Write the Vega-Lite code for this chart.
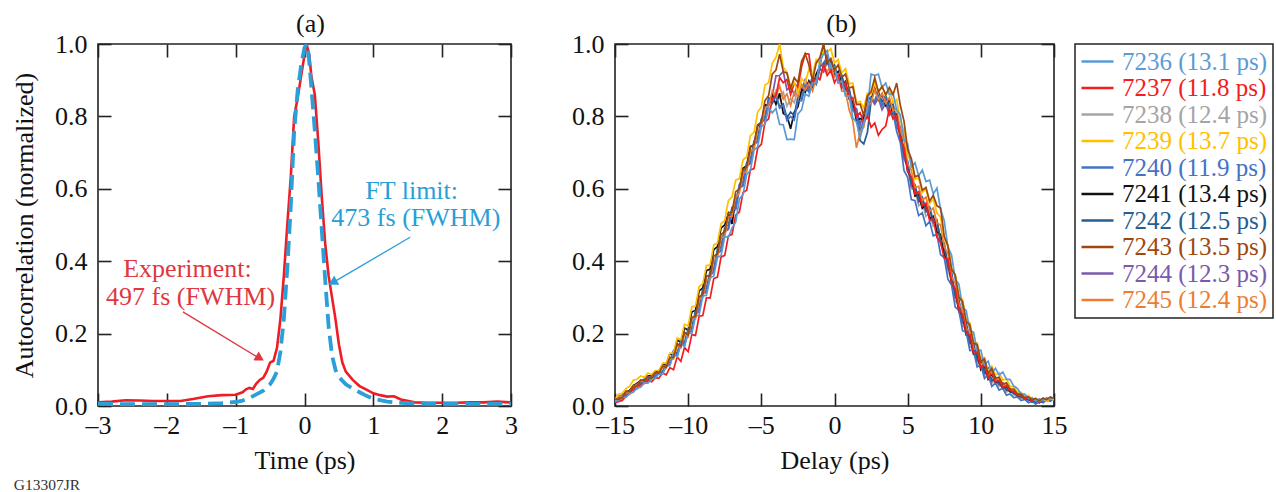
{
  "$schema": "https://vega.github.io/schema/vega-lite/v6.json",
  "padding": {"left": 10, "top": 10, "right": 0, "bottom": 0},
  "bounds": "flush",
  "spacing": 104,
  "config": {
    "font": "Liberation Serif",
    "view": {"stroke": "#222222", "strokeWidth": 1.6},
    "axis": {
      "labelFont": "Liberation Serif", "titleFont": "Liberation Serif",
      "labelFontSize": 26, "titleFontSize": 26, "labelColor": "#111111", "titleColor": "#111111",
      "titleFontWeight": "normal", "grid": false, "domain": false,
      "tickColor": "#222222", "tickWidth": 1.6, "tickSize": -13,
      "labelFlush": false, "labelOverlap": false
    },
    "title": {"font": "Liberation Serif", "fontWeight": "normal", "color": "#111111"}
  },
  "title": {"text": "G13307JR", "orient": "bottom", "anchor": "start", "frame": "bounds", "fontSize": 15.5, "color": "#333333", "offset": 4, "dx": 3},
  "resolve": {"legend": {"color": "independent"}},
  "datasets": {
    "expt": [
      {"t": -3.0, "v": 0.010}, {"t": -2.8, "v": 0.012}, {"t": -2.6, "v": 0.016}, {"t": -2.4, "v": 0.015},
      {"t": -2.2, "v": 0.014}, {"t": -2.0, "v": 0.014}, {"t": -1.8, "v": 0.014}, {"t": -1.6, "v": 0.020},
      {"t": -1.4, "v": 0.027}, {"t": -1.2, "v": 0.030}, {"t": -1.0, "v": 0.031}, {"t": -0.9, "v": 0.038},
      {"t": -0.85, "v": 0.046}, {"t": -0.8, "v": 0.050}, {"t": -0.75, "v": 0.047}, {"t": -0.7, "v": 0.062},
      {"t": -0.65, "v": 0.072}, {"t": -0.6, "v": 0.078}, {"t": -0.55, "v": 0.095}, {"t": -0.5, "v": 0.120},
      {"t": -0.45, "v": 0.125}, {"t": -0.4, "v": 0.160}, {"t": -0.35, "v": 0.240}, {"t": -0.3, "v": 0.360},
      {"t": -0.25, "v": 0.500}, {"t": -0.2, "v": 0.630}, {"t": -0.15, "v": 0.800}, {"t": -0.1, "v": 0.850},
      {"t": -0.05, "v": 0.910}, {"t": 0.0, "v": 0.970}, {"t": 0.03, "v": 1.0}, {"t": 0.07, "v": 0.970},
      {"t": 0.1, "v": 0.910}, {"t": 0.15, "v": 0.860}, {"t": 0.2, "v": 0.730}, {"t": 0.25, "v": 0.580},
      {"t": 0.3, "v": 0.450}, {"t": 0.35, "v": 0.360}, {"t": 0.4, "v": 0.300}, {"t": 0.45, "v": 0.240},
      {"t": 0.5, "v": 0.170}, {"t": 0.55, "v": 0.120}, {"t": 0.6, "v": 0.095}, {"t": 0.7, "v": 0.072},
      {"t": 0.8, "v": 0.055}, {"t": 0.9, "v": 0.045}, {"t": 1.0, "v": 0.035}, {"t": 1.1, "v": 0.030},
      {"t": 1.2, "v": 0.026}, {"t": 1.3, "v": 0.027}, {"t": 1.4, "v": 0.018}, {"t": 1.6, "v": 0.010},
      {"t": 1.8, "v": 0.009}, {"t": 2.0, "v": 0.009}, {"t": 2.2, "v": 0.009}, {"t": 2.4, "v": 0.010},
      {"t": 2.6, "v": 0.010}, {"t": 2.8, "v": 0.012}, {"t": 3.0, "v": 0.010}
    ],
    "ft": [
      {"t": -3.0, "v": 0.006}, {"t": -2.5, "v": 0.005}, {"t": -2.0, "v": 0.005}, {"t": -1.5, "v": 0.006},
      {"t": -1.2, "v": 0.008}, {"t": -1.0, "v": 0.011}, {"t": -0.9, "v": 0.015}, {"t": -0.8, "v": 0.022},
      {"t": -0.7, "v": 0.032}, {"t": -0.6, "v": 0.042}, {"t": -0.5, "v": 0.060}, {"t": -0.45, "v": 0.075},
      {"t": -0.4, "v": 0.095}, {"t": -0.35, "v": 0.150}, {"t": -0.3, "v": 0.240}, {"t": -0.25, "v": 0.380},
      {"t": -0.2, "v": 0.550}, {"t": -0.15, "v": 0.760}, {"t": -0.1, "v": 0.870}, {"t": -0.05, "v": 0.940},
      {"t": 0.0, "v": 0.990}, {"t": 0.03, "v": 1.0}, {"t": 0.06, "v": 0.970}, {"t": 0.1, "v": 0.880},
      {"t": 0.15, "v": 0.760}, {"t": 0.2, "v": 0.630}, {"t": 0.25, "v": 0.490}, {"t": 0.3, "v": 0.350},
      {"t": 0.35, "v": 0.220}, {"t": 0.4, "v": 0.140}, {"t": 0.45, "v": 0.100}, {"t": 0.5, "v": 0.080},
      {"t": 0.6, "v": 0.060}, {"t": 0.7, "v": 0.048}, {"t": 0.8, "v": 0.038}, {"t": 0.9, "v": 0.028},
      {"t": 1.0, "v": 0.020}, {"t": 1.2, "v": 0.012}, {"t": 1.4, "v": 0.009}, {"t": 1.6, "v": 0.007},
      {"t": 2.0, "v": 0.006}, {"t": 2.5, "v": 0.006}, {"t": 3.0, "v": 0.006}
    ],
    "labels": [
      {"k": "a", "label": "7236 (13.1 ps)"}, {"k": "b", "label": "7237 (11.8 ps)"},
      {"k": "c", "label": "7238 (12.4 ps)"}, {"k": "d", "label": "7239 (13.7 ps)"},
      {"k": "e", "label": "7240 (11.9 ps)"}, {"k": "f", "label": "7241 (13.4 ps)"},
      {"k": "g", "label": "7242 (12.5 ps)"}, {"k": "h", "label": "7243 (13.5 ps)"},
      {"k": "i", "label": "7244 (12.3 ps)"}, {"k": "j", "label": "7245 (12.4 ps)"}
    ],
    "scans": [
      {"t": -15, "a": 0.013, "b": 0.009, "c": 0.021, "d": 0.017, "e": 0.011, "f": 0.012, "g": 0.015, "h": 0.019, "i": 0.019, "j": 0.011},
      {"t": -14.75, "a": 0.015, "b": 0.013, "c": 0.019, "d": 0.033, "e": 0.012, "f": 0.027, "g": 0.016, "h": 0.019, "i": 0.018, "j": 0.028},
      {"t": -14.5, "a": 0.025, "b": 0.015, "c": 0.030, "d": 0.035, "e": 0.023, "f": 0.028, "g": 0.031, "h": 0.023, "i": 0.027, "j": 0.027},
      {"t": -14.25, "a": 0.024, "b": 0.028, "c": 0.032, "d": 0.048, "e": 0.027, "f": 0.039, "g": 0.030, "h": 0.041, "i": 0.026, "j": 0.037},
      {"t": -14, "a": 0.035, "b": 0.033, "c": 0.044, "d": 0.055, "e": 0.040, "f": 0.043, "g": 0.043, "h": 0.040, "i": 0.041, "j": 0.039},
      {"t": -13.75, "a": 0.038, "b": 0.047, "c": 0.047, "d": 0.071, "e": 0.045, "f": 0.057, "g": 0.047, "h": 0.055, "i": 0.044, "j": 0.056},
      {"t": -13.5, "a": 0.049, "b": 0.047, "c": 0.063, "d": 0.074, "e": 0.058, "f": 0.062, "g": 0.062, "h": 0.054, "i": 0.059, "j": 0.058},
      {"t": -13.25, "a": 0.052, "b": 0.060, "c": 0.060, "d": 0.083, "e": 0.059, "f": 0.071, "g": 0.063, "h": 0.072, "i": 0.057, "j": 0.069},
      {"t": -13, "a": 0.063, "b": 0.062, "c": 0.075, "d": 0.079, "e": 0.069, "f": 0.071, "g": 0.074, "h": 0.069, "i": 0.071, "j": 0.067},
      {"t": -12.75, "a": 0.063, "b": 0.071, "c": 0.073, "d": 0.091, "e": 0.067, "f": 0.083, "g": 0.071, "h": 0.081, "i": 0.069, "j": 0.080},
      {"t": -12.5, "a": 0.074, "b": 0.067, "c": 0.084, "d": 0.087, "e": 0.079, "f": 0.084, "g": 0.085, "h": 0.077, "i": 0.081, "j": 0.078},
      {"t": -12.25, "a": 0.076, "b": 0.077, "c": 0.085, "d": 0.098, "e": 0.081, "f": 0.093, "g": 0.082, "h": 0.092, "i": 0.080, "j": 0.090},
      {"t": -12, "a": 0.089, "b": 0.077, "c": 0.098, "d": 0.098, "e": 0.093, "f": 0.096, "g": 0.096, "h": 0.091, "i": 0.093, "j": 0.092},
      {"t": -11.75, "a": 0.088, "b": 0.091, "c": 0.092, "d": 0.118, "e": 0.092, "f": 0.114, "g": 0.095, "h": 0.110, "i": 0.091, "j": 0.107},
      {"t": -11.5, "a": 0.109, "b": 0.086, "c": 0.114, "d": 0.119, "e": 0.114, "f": 0.116, "g": 0.118, "h": 0.107, "i": 0.112, "j": 0.105},
      {"t": -11.25, "a": 0.112, "b": 0.106, "c": 0.114, "d": 0.146, "e": 0.116, "f": 0.144, "g": 0.120, "h": 0.134, "i": 0.114, "j": 0.131},
      {"t": -11, "a": 0.145, "b": 0.100, "c": 0.148, "d": 0.146, "e": 0.149, "f": 0.143, "g": 0.153, "h": 0.134, "i": 0.146, "j": 0.130},
      {"t": -10.75, "a": 0.135, "b": 0.136, "c": 0.138, "d": 0.188, "e": 0.140, "f": 0.182, "g": 0.145, "h": 0.172, "i": 0.138, "j": 0.168},
      {"t": -10.5, "a": 0.172, "b": 0.123, "c": 0.178, "d": 0.183, "e": 0.178, "f": 0.176, "g": 0.183, "h": 0.165, "i": 0.175, "j": 0.160},
      {"t": -10.25, "a": 0.164, "b": 0.162, "c": 0.168, "d": 0.226, "e": 0.169, "f": 0.216, "g": 0.175, "h": 0.204, "i": 0.168, "j": 0.198},
      {"t": -10, "a": 0.202, "b": 0.150, "c": 0.208, "d": 0.221, "e": 0.208, "f": 0.209, "g": 0.214, "h": 0.196, "i": 0.204, "j": 0.191},
      {"t": -9.75, "a": 0.200, "b": 0.197, "c": 0.208, "d": 0.274, "e": 0.209, "f": 0.260, "g": 0.215, "h": 0.245, "i": 0.206, "j": 0.240},
      {"t": -9.5, "a": 0.248, "b": 0.195, "c": 0.258, "d": 0.276, "e": 0.258, "f": 0.264, "g": 0.263, "h": 0.248, "i": 0.255, "j": 0.240},
      {"t": -9.25, "a": 0.251, "b": 0.248, "c": 0.263, "d": 0.330, "e": 0.263, "f": 0.318, "g": 0.270, "h": 0.302, "i": 0.260, "j": 0.293},
      {"t": -9, "a": 0.304, "b": 0.250, "c": 0.317, "d": 0.338, "e": 0.315, "f": 0.326, "g": 0.323, "h": 0.308, "i": 0.312, "j": 0.300},
      {"t": -8.75, "a": 0.306, "b": 0.299, "c": 0.318, "d": 0.388, "e": 0.318, "f": 0.374, "g": 0.325, "h": 0.359, "i": 0.313, "j": 0.348},
      {"t": -8.5, "a": 0.354, "b": 0.298, "c": 0.364, "d": 0.390, "e": 0.366, "f": 0.378, "g": 0.373, "h": 0.360, "i": 0.362, "j": 0.348},
      {"t": -8.25, "a": 0.359, "b": 0.352, "c": 0.371, "d": 0.445, "e": 0.372, "f": 0.432, "g": 0.378, "h": 0.414, "i": 0.369, "j": 0.404},
      {"t": -8, "a": 0.410, "b": 0.356, "c": 0.426, "d": 0.450, "e": 0.425, "f": 0.440, "g": 0.433, "h": 0.420, "i": 0.422, "j": 0.409},
      {"t": -7.75, "a": 0.416, "b": 0.412, "c": 0.430, "d": 0.504, "e": 0.433, "f": 0.492, "g": 0.440, "h": 0.474, "i": 0.428, "j": 0.464},
      {"t": -7.5, "a": 0.468, "b": 0.416, "c": 0.484, "d": 0.513, "e": 0.486, "f": 0.500, "g": 0.493, "h": 0.482, "i": 0.482, "j": 0.468},
      {"t": -7.25, "a": 0.466, "b": 0.470, "c": 0.490, "d": 0.568, "e": 0.491, "f": 0.532, "g": 0.500, "h": 0.534, "i": 0.488, "j": 0.523},
      {"t": -7, "a": 0.492, "b": 0.474, "c": 0.540, "d": 0.578, "e": 0.539, "f": 0.503, "g": 0.549, "h": 0.536, "i": 0.538, "j": 0.524},
      {"t": -6.75, "a": 0.508, "b": 0.527, "c": 0.545, "d": 0.624, "e": 0.546, "f": 0.572, "g": 0.554, "h": 0.592, "i": 0.543, "j": 0.577},
      {"t": -6.5, "a": 0.572, "b": 0.536, "c": 0.604, "d": 0.628, "e": 0.606, "f": 0.598, "g": 0.612, "h": 0.600, "i": 0.602, "j": 0.588},
      {"t": -6.25, "a": 0.584, "b": 0.590, "c": 0.610, "d": 0.680, "e": 0.612, "f": 0.657, "g": 0.620, "h": 0.652, "i": 0.608, "j": 0.643},
      {"t": -6, "a": 0.640, "b": 0.596, "c": 0.664, "d": 0.688, "e": 0.666, "f": 0.664, "g": 0.672, "h": 0.660, "i": 0.662, "j": 0.648},
      {"t": -5.75, "a": 0.650, "b": 0.652, "c": 0.670, "d": 0.747, "e": 0.674, "f": 0.717, "g": 0.678, "h": 0.714, "i": 0.670, "j": 0.703},
      {"t": -5.5, "a": 0.707, "b": 0.656, "c": 0.724, "d": 0.756, "e": 0.726, "f": 0.721, "g": 0.732, "h": 0.723, "i": 0.724, "j": 0.710},
      {"t": -5.25, "a": 0.716, "b": 0.712, "c": 0.730, "d": 0.812, "e": 0.733, "f": 0.774, "g": 0.740, "h": 0.777, "i": 0.729, "j": 0.762},
      {"t": -5, "a": 0.772, "b": 0.723, "c": 0.784, "d": 0.826, "e": 0.787, "f": 0.781, "g": 0.793, "h": 0.784, "i": 0.784, "j": 0.769},
      {"t": -4.75, "a": 0.778, "b": 0.784, "c": 0.791, "d": 0.887, "e": 0.794, "f": 0.832, "g": 0.798, "h": 0.844, "i": 0.790, "j": 0.824},
      {"t": -4.5, "a": 0.824, "b": 0.793, "c": 0.844, "d": 0.893, "e": 0.846, "f": 0.830, "g": 0.850, "h": 0.858, "i": 0.848, "j": 0.828},
      {"t": -4.25, "a": 0.810, "b": 0.850, "c": 0.840, "d": 0.947, "e": 0.838, "f": 0.860, "g": 0.836, "h": 0.917, "i": 0.856, "j": 0.870},
      {"t": -4, "a": 0.822, "b": 0.858, "c": 0.870, "d": 0.963, "e": 0.860, "f": 0.833, "g": 0.857, "h": 0.928, "i": 0.912, "j": 0.856},
      {"t": -3.75, "a": 0.778, "b": 0.907, "c": 0.850, "d": 1.0, "e": 0.823, "f": 0.864, "g": 0.826, "h": 0.972, "i": 0.913, "j": 0.884},
      {"t": -3.5, "a": 0.777, "b": 0.893, "c": 0.867, "d": 0.936, "e": 0.830, "f": 0.808, "g": 0.834, "h": 0.923, "i": 0.924, "j": 0.848},
      {"t": -3.25, "a": 0.736, "b": 0.902, "c": 0.828, "d": 0.922, "e": 0.788, "f": 0.802, "g": 0.796, "h": 0.920, "i": 0.873, "j": 0.862},
      {"t": -3, "a": 0.737, "b": 0.860, "c": 0.850, "d": 0.878, "e": 0.800, "f": 0.766, "g": 0.812, "h": 0.878, "i": 0.882, "j": 0.830},
      {"t": -2.75, "a": 0.736, "b": 0.892, "c": 0.838, "d": 0.894, "e": 0.790, "f": 0.812, "g": 0.803, "h": 0.907, "i": 0.860, "j": 0.867},
      {"t": -2.5, "a": 0.807, "b": 0.878, "c": 0.874, "d": 0.866, "e": 0.842, "f": 0.826, "g": 0.854, "h": 0.893, "i": 0.892, "j": 0.854},
      {"t": -2.25, "a": 0.818, "b": 0.937, "c": 0.860, "d": 0.904, "e": 0.843, "f": 0.874, "g": 0.848, "h": 0.952, "i": 0.873, "j": 0.888},
      {"t": -2, "a": 0.862, "b": 0.973, "c": 0.892, "d": 0.893, "e": 0.882, "f": 0.866, "g": 0.884, "h": 0.973, "i": 0.902, "j": 0.873},
      {"t": -1.75, "a": 0.856, "b": 0.972, "c": 0.873, "d": 0.930, "e": 0.868, "f": 0.898, "g": 0.868, "h": 0.942, "i": 0.880, "j": 0.892},
      {"t": -1.5, "a": 0.892, "b": 0.893, "c": 0.902, "d": 0.916, "e": 0.900, "f": 0.880, "g": 0.902, "h": 0.900, "i": 0.910, "j": 0.870},
      {"t": -1.25, "a": 0.893, "b": 0.907, "c": 0.888, "d": 0.957, "e": 0.890, "f": 0.917, "g": 0.890, "h": 0.947, "i": 0.893, "j": 0.907},
      {"t": -1, "a": 0.952, "b": 0.903, "c": 0.930, "d": 0.946, "e": 0.937, "f": 0.938, "g": 0.942, "h": 0.963, "i": 0.932, "j": 0.900},
      {"t": -0.75, "a": 0.973, "b": 0.942, "c": 0.923, "d": 0.984, "e": 0.948, "f": 0.997, "g": 0.938, "h": 1.0, "i": 0.923, "j": 0.942},
      {"t": -0.5, "a": 0.982, "b": 0.913, "c": 0.954, "d": 0.978, "e": 0.962, "f": 0.948, "g": 0.967, "h": 0.948, "i": 0.952, "j": 0.923},
      {"t": -0.25, "a": 0.933, "b": 0.927, "c": 0.926, "d": 0.987, "e": 0.923, "f": 0.954, "g": 0.928, "h": 0.960, "i": 0.923, "j": 0.944},
      {"t": 0, "a": 0.937, "b": 0.893, "c": 0.940, "d": 0.948, "e": 0.930, "f": 0.913, "g": 0.942, "h": 0.928, "i": 0.934, "j": 0.908},
      {"t": 0.25, "a": 0.893, "b": 0.912, "c": 0.903, "d": 0.957, "e": 0.893, "f": 0.924, "g": 0.903, "h": 0.942, "i": 0.900, "j": 0.917},
      {"t": 0.5, "a": 0.897, "b": 0.878, "c": 0.912, "d": 0.920, "e": 0.900, "f": 0.886, "g": 0.912, "h": 0.908, "i": 0.910, "j": 0.870},
      {"t": 0.75, "a": 0.856, "b": 0.894, "c": 0.873, "d": 0.932, "e": 0.860, "f": 0.897, "g": 0.873, "h": 0.917, "i": 0.870, "j": 0.870},
      {"t": 1, "a": 0.857, "b": 0.850, "c": 0.877, "d": 0.890, "e": 0.864, "f": 0.848, "g": 0.874, "h": 0.878, "i": 0.874, "j": 0.818},
      {"t": 1.25, "a": 0.796, "b": 0.852, "c": 0.830, "d": 0.892, "e": 0.816, "f": 0.840, "g": 0.820, "h": 0.882, "i": 0.828, "j": 0.787},
      {"t": 1.5, "a": 0.784, "b": 0.800, "c": 0.820, "d": 0.838, "e": 0.807, "f": 0.788, "g": 0.802, "h": 0.833, "i": 0.822, "j": 0.713},
      {"t": 1.75, "a": 0.740, "b": 0.810, "c": 0.776, "d": 0.842, "e": 0.760, "f": 0.794, "g": 0.733, "h": 0.834, "i": 0.778, "j": 0.757},
      {"t": 2, "a": 0.780, "b": 0.783, "c": 0.807, "d": 0.823, "e": 0.790, "f": 0.793, "g": 0.724, "h": 0.803, "i": 0.810, "j": 0.770},
      {"t": 2.25, "a": 0.820, "b": 0.802, "c": 0.803, "d": 0.864, "e": 0.796, "f": 0.852, "g": 0.756, "h": 0.857, "i": 0.806, "j": 0.832},
      {"t": 2.5, "a": 0.917, "b": 0.770, "c": 0.850, "d": 0.860, "e": 0.852, "f": 0.848, "g": 0.842, "h": 0.868, "i": 0.850, "j": 0.836},
      {"t": 2.75, "a": 0.913, "b": 0.782, "c": 0.836, "d": 0.892, "e": 0.840, "f": 0.877, "g": 0.843, "h": 0.907, "i": 0.833, "j": 0.874},
      {"t": 3, "a": 0.917, "b": 0.748, "c": 0.857, "d": 0.866, "e": 0.860, "f": 0.846, "g": 0.870, "h": 0.868, "i": 0.850, "j": 0.846},
      {"t": 3.25, "a": 0.880, "b": 0.764, "c": 0.826, "d": 0.884, "e": 0.830, "f": 0.862, "g": 0.840, "h": 0.882, "i": 0.818, "j": 0.864},
      {"t": 3.5, "a": 0.892, "b": 0.773, "c": 0.844, "d": 0.858, "e": 0.847, "f": 0.830, "g": 0.858, "h": 0.860, "i": 0.837, "j": 0.836},
      {"t": 3.75, "a": 0.860, "b": 0.822, "c": 0.810, "d": 0.874, "e": 0.810, "f": 0.847, "g": 0.826, "h": 0.880, "i": 0.803, "j": 0.852},
      {"t": 4, "a": 0.864, "b": 0.793, "c": 0.820, "d": 0.838, "e": 0.812, "f": 0.806, "g": 0.834, "h": 0.860, "i": 0.814, "j": 0.816},
      {"t": 4.25, "a": 0.818, "b": 0.802, "c": 0.773, "d": 0.847, "e": 0.758, "f": 0.807, "g": 0.788, "h": 0.892, "i": 0.770, "j": 0.822},
      {"t": 4.5, "a": 0.804, "b": 0.738, "c": 0.754, "d": 0.788, "e": 0.727, "f": 0.740, "g": 0.770, "h": 0.830, "i": 0.754, "j": 0.760},
      {"t": 4.75, "a": 0.736, "b": 0.712, "c": 0.680, "d": 0.760, "e": 0.650, "f": 0.712, "g": 0.694, "h": 0.787, "i": 0.683, "j": 0.734},
      {"t": 5, "a": 0.724, "b": 0.648, "c": 0.662, "d": 0.693, "e": 0.632, "f": 0.648, "g": 0.677, "h": 0.708, "i": 0.667, "j": 0.668},
      {"t": 5.25, "a": 0.660, "b": 0.634, "c": 0.600, "d": 0.674, "e": 0.570, "f": 0.630, "g": 0.614, "h": 0.684, "i": 0.606, "j": 0.652},
      {"t": 5.5, "a": 0.672, "b": 0.586, "c": 0.597, "d": 0.626, "e": 0.567, "f": 0.580, "g": 0.612, "h": 0.633, "i": 0.608, "j": 0.603},
      {"t": 5.75, "a": 0.636, "b": 0.592, "c": 0.553, "d": 0.630, "e": 0.526, "f": 0.584, "g": 0.568, "h": 0.637, "i": 0.563, "j": 0.607},
      {"t": 6, "a": 0.652, "b": 0.553, "c": 0.562, "d": 0.590, "e": 0.534, "f": 0.546, "g": 0.577, "h": 0.596, "i": 0.574, "j": 0.568},
      {"t": 6.25, "a": 0.620, "b": 0.560, "c": 0.524, "d": 0.600, "e": 0.498, "f": 0.557, "g": 0.540, "h": 0.604, "i": 0.536, "j": 0.577},
      {"t": 6.5, "a": 0.624, "b": 0.513, "c": 0.534, "d": 0.560, "e": 0.510, "f": 0.518, "g": 0.550, "h": 0.566, "i": 0.544, "j": 0.538},
      {"t": 6.75, "a": 0.586, "b": 0.517, "c": 0.496, "d": 0.572, "e": 0.470, "f": 0.524, "g": 0.510, "h": 0.582, "i": 0.506, "j": 0.547},
      {"t": 7, "a": 0.602, "b": 0.466, "c": 0.500, "d": 0.533, "e": 0.474, "f": 0.480, "g": 0.514, "h": 0.553, "i": 0.510, "j": 0.506},
      {"t": 7.25, "a": 0.543, "b": 0.452, "c": 0.446, "d": 0.522, "e": 0.418, "f": 0.474, "g": 0.458, "h": 0.547, "i": 0.456, "j": 0.500},
      {"t": 7.5, "a": 0.512, "b": 0.408, "c": 0.434, "d": 0.460, "e": 0.410, "f": 0.416, "g": 0.450, "h": 0.468, "i": 0.444, "j": 0.440},
      {"t": 7.75, "a": 0.438, "b": 0.407, "c": 0.370, "d": 0.444, "e": 0.350, "f": 0.402, "g": 0.386, "h": 0.442, "i": 0.380, "j": 0.422},
      {"t": 8, "a": 0.417, "b": 0.340, "c": 0.354, "d": 0.380, "e": 0.334, "f": 0.338, "g": 0.370, "h": 0.378, "i": 0.364, "j": 0.356},
      {"t": 8.25, "a": 0.350, "b": 0.324, "c": 0.290, "d": 0.364, "e": 0.273, "f": 0.322, "g": 0.306, "h": 0.362, "i": 0.300, "j": 0.340},
      {"t": 8.5, "a": 0.337, "b": 0.266, "c": 0.280, "d": 0.306, "e": 0.264, "f": 0.260, "g": 0.294, "h": 0.300, "i": 0.290, "j": 0.280},
      {"t": 8.75, "a": 0.273, "b": 0.254, "c": 0.220, "d": 0.294, "e": 0.208, "f": 0.250, "g": 0.236, "h": 0.288, "i": 0.230, "j": 0.267},
      {"t": 9, "a": 0.264, "b": 0.203, "c": 0.217, "d": 0.238, "e": 0.204, "f": 0.196, "g": 0.230, "h": 0.233, "i": 0.226, "j": 0.213},
      {"t": 9.25, "a": 0.208, "b": 0.197, "c": 0.163, "d": 0.230, "e": 0.153, "f": 0.192, "g": 0.176, "h": 0.224, "i": 0.173, "j": 0.207},
      {"t": 9.5, "a": 0.204, "b": 0.148, "c": 0.162, "d": 0.178, "e": 0.154, "f": 0.143, "g": 0.174, "h": 0.173, "i": 0.172, "j": 0.158},
      {"t": 9.75, "a": 0.153, "b": 0.150, "c": 0.116, "d": 0.174, "e": 0.108, "f": 0.144, "g": 0.128, "h": 0.170, "i": 0.124, "j": 0.157},
      {"t": 10, "a": 0.154, "b": 0.106, "c": 0.122, "d": 0.128, "e": 0.114, "f": 0.100, "g": 0.132, "h": 0.123, "i": 0.130, "j": 0.113},
      {"t": 10.25, "a": 0.113, "b": 0.116, "c": 0.084, "d": 0.134, "e": 0.076, "f": 0.110, "g": 0.092, "h": 0.130, "i": 0.090, "j": 0.122},
      {"t": 10.5, "a": 0.124, "b": 0.078, "c": 0.096, "d": 0.096, "e": 0.087, "f": 0.074, "g": 0.104, "h": 0.090, "i": 0.102, "j": 0.084},
      {"t": 10.75, "a": 0.092, "b": 0.092, "c": 0.063, "d": 0.110, "e": 0.054, "f": 0.089, "g": 0.070, "h": 0.104, "i": 0.068, "j": 0.098},
      {"t": 11, "a": 0.104, "b": 0.066, "c": 0.074, "d": 0.086, "e": 0.064, "f": 0.064, "g": 0.080, "h": 0.076, "i": 0.078, "j": 0.072},
      {"t": 11.25, "a": 0.086, "b": 0.071, "c": 0.054, "d": 0.092, "e": 0.044, "f": 0.068, "g": 0.060, "h": 0.080, "i": 0.059, "j": 0.076},
      {"t": 11.5, "a": 0.094, "b": 0.052, "c": 0.058, "d": 0.072, "e": 0.049, "f": 0.049, "g": 0.064, "h": 0.060, "i": 0.062, "j": 0.056},
      {"t": 11.75, "a": 0.074, "b": 0.056, "c": 0.039, "d": 0.074, "e": 0.030, "f": 0.054, "g": 0.044, "h": 0.064, "i": 0.043, "j": 0.059},
      {"t": 12, "a": 0.073, "b": 0.042, "c": 0.043, "d": 0.055, "e": 0.033, "f": 0.039, "g": 0.047, "h": 0.047, "i": 0.046, "j": 0.044},
      {"t": 12.25, "a": 0.055, "b": 0.041, "c": 0.031, "d": 0.053, "e": 0.023, "f": 0.039, "g": 0.035, "h": 0.047, "i": 0.034, "j": 0.043},
      {"t": 12.5, "a": 0.049, "b": 0.029, "c": 0.031, "d": 0.039, "e": 0.025, "f": 0.027, "g": 0.035, "h": 0.033, "i": 0.034, "j": 0.031},
      {"t": 12.75, "a": 0.033, "b": 0.030, "c": 0.021, "d": 0.038, "e": 0.015, "f": 0.029, "g": 0.024, "h": 0.033, "i": 0.023, "j": 0.032},
      {"t": 13, "a": 0.033, "b": 0.020, "c": 0.023, "d": 0.027, "e": 0.018, "f": 0.019, "g": 0.026, "h": 0.023, "i": 0.025, "j": 0.022},
      {"t": 13.25, "a": 0.021, "b": 0.022, "c": 0.014, "d": 0.029, "e": 0.009, "f": 0.021, "g": 0.017, "h": 0.025, "i": 0.016, "j": 0.025},
      {"t": 13.5, "a": 0.023, "b": 0.013, "c": 0.018, "d": 0.019, "e": 0.013, "f": 0.011, "g": 0.021, "h": 0.017, "i": 0.020, "j": 0.016},
      {"t": 13.75, "a": 0.014, "b": 0.017, "c": 0.010, "d": 0.021, "e": 0.005, "f": 0.013, "g": 0.011, "h": 0.021, "i": 0.012, "j": 0.020},
      {"t": 14, "a": 0.019, "b": 0.012, "c": 0.017, "d": 0.013, "e": 0.013, "f": 0.009, "g": 0.018, "h": 0.014, "i": 0.019, "j": 0.013},
      {"t": 14.25, "a": 0.016, "b": 0.019, "c": 0.012, "d": 0.020, "e": 0.009, "f": 0.017, "g": 0.013, "h": 0.022, "i": 0.014, "j": 0.021},
      {"t": 14.5, "a": 0.023, "b": 0.015, "c": 0.020, "d": 0.013, "e": 0.017, "f": 0.014, "g": 0.021, "h": 0.017, "i": 0.021, "j": 0.016},
      {"t": 14.75, "a": 0.019, "b": 0.022, "c": 0.015, "d": 0.021, "e": 0.013, "f": 0.023, "g": 0.016, "h": 0.025, "i": 0.016, "j": 0.024},
      {"t": 15, "a": 0.023, "b": 0.018, "c": 0.022, "d": 0.017, "e": 0.021, "f": 0.019, "g": 0.023, "h": 0.021, "i": 0.023, "j": 0.019}
    ]
  },
  "hconcat": [
    {
      "width": 413,
      "height": 362,
      "title": {"text": "(a)", "fontSize": 26, "offset": -6, "dx": 6},
      "resolve": {"axis": {"x": "independent", "y": "independent"}},
      "layer": [
        {
          "data": {"name": "expt"},
          "mark": {"type": "line", "color": "#EE1D23", "strokeWidth": 2.6, "clip": true},
          "encoding": {
            "x": {"field": "t", "type": "quantitative", "scale": {"domain": [-3, 3], "nice": false, "zero": false},
                  "axis": {"orient": "bottom", "values": [-3, -2, -1, 0, 1, 2, 3], "title": "Time (ps)",
                           "labelExpr": "datum.value < 0 ? '–' + format(-datum.value, 'd') : format(datum.value, 'd')",
                           "labelPadding": 19, "titlePadding": 9}},
            "y": {"field": "v", "type": "quantitative", "scale": {"domain": [0, 1], "nice": false},
                  "axis": {"orient": "left", "values": [0, 0.2, 0.4, 0.6, 0.8, 1], "format": ".1f",
                           "title": "Autocorrelation (normalized)", "labelPadding": 24, "titlePadding": 17}}
          }
        },
        {
          "data": {"name": "ft"},
          "mark": {"type": "line", "color": "#2A9FD8", "strokeWidth": 3.8, "strokeDash": [15, 7], "clip": true},
          "encoding": {
            "x": {"field": "t", "type": "quantitative",
                  "axis": {"orient": "top", "values": [-3, -2, -1, 0, 1, 2, 3], "labels": false, "title": null}},
            "y": {"field": "v", "type": "quantitative",
                  "axis": {"orient": "right", "values": [0, 0.2, 0.4, 0.6, 0.8, 1], "labels": false, "title": null}}
          }
        },
        {
          "data": {"values": [{"t": -1.766, "v": 0.260, "t2": -0.62, "v2": 0.128}]},
          "mark": {"type": "rule", "color": "#E0363F", "strokeWidth": 1.3},
          "encoding": {
            "x": {"field": "t", "type": "quantitative", "axis": null},
            "y": {"field": "v", "type": "quantitative", "axis": null},
            "x2": {"field": "t2"},
            "y2": {"field": "v2"}
          }
        },
        {
          "data": {"values": [{"t": -0.648, "v": 0.132}]},
          "mark": {"type": "point", "shape": "triangle-right", "filled": true, "color": "#E0363F", "size": 110, "angle": 31, "opacity": 1},
          "encoding": {
            "x": {"field": "t", "type": "quantitative", "axis": null},
            "y": {"field": "v", "type": "quantitative", "axis": null}
          }
        },
        {
          "data": {"values": [{"t": 1.534, "v": 0.466, "t2": 0.385, "v2": 0.338}]},
          "mark": {"type": "rule", "color": "#2A9FD8", "strokeWidth": 1.3},
          "encoding": {
            "x": {"field": "t", "type": "quantitative", "axis": null},
            "y": {"field": "v", "type": "quantitative", "axis": null},
            "x2": {"field": "t2"},
            "y2": {"field": "v2"}
          }
        },
        {
          "data": {"values": [{"t": 0.411, "v": 0.3415}]},
          "mark": {"type": "point", "shape": "triangle-right", "filled": true, "color": "#2A9FD8", "size": 110, "angle": 150, "opacity": 1},
          "encoding": {
            "x": {"field": "t", "type": "quantitative", "axis": null},
            "y": {"field": "v", "type": "quantitative", "axis": null}
          }
        },
        {
          "data": {"values": [{"t": -1.70, "v": 0.355, "text": "Experiment:"}, {"t": -1.655, "v": 0.279, "text": "497 fs (FWHM)"}]},
          "mark": {"type": "text", "color": "#E0363F", "font": "Liberation Serif", "fontSize": 26, "align": "center", "baseline": "alphabetic"},
          "encoding": {
            "x": {"field": "t", "type": "quantitative", "axis": null},
            "y": {"field": "v", "type": "quantitative", "axis": null},
            "text": {"field": "text"}
          }
        },
        {
          "data": {"values": [{"t": 1.557, "v": 0.572, "text": "FT limit:"}, {"t": 1.618, "v": 0.4964, "text": "473 fs (FWHM)"}]},
          "mark": {"type": "text", "color": "#27A0D8", "font": "Liberation Serif", "fontSize": 26, "align": "center", "baseline": "alphabetic"},
          "encoding": {
            "x": {"field": "t", "type": "quantitative", "axis": null},
            "y": {"field": "v", "type": "quantitative", "axis": null},
            "text": {"field": "text"}
          }
        }
      ]
    },
    {
      "width": 439,
      "height": 362,
      "title": {"text": "(b)", "fontSize": 26, "offset": -6, "dx": 7},
      "resolve": {"axis": {"x": "independent", "y": "independent"}},
      "layer": [
        {
          "data": {"name": "scans"},
          "transform": [
            {"fold": ["c", "i", "f", "g", "e", "j", "b", "d", "a", "h"], "as": ["k", "v"]},
            {"lookup": "k", "from": {"data": {"name": "labels"}, "key": "k", "fields": ["label"]}}
          ],
          "mark": {"type": "line", "strokeWidth": 1.7, "clip": true},
          "encoding": {
            "x": {"field": "t", "type": "quantitative", "scale": {"domain": [-15, 15], "nice": false, "zero": false},
                  "axis": {"orient": "bottom", "values": [-15, -10, -5, 0, 5, 10, 15], "title": "Delay (ps)",
                           "labelExpr": "datum.value < 0 ? '–' + format(-datum.value, 'd') : format(datum.value, 'd')",
                           "labelPadding": 19, "titlePadding": 9}},
            "y": {"field": "v", "type": "quantitative", "scale": {"domain": [0, 1], "nice": false},
                  "axis": {"orient": "left", "values": [0, 0.2, 0.4, 0.6, 0.8, 1], "format": ".1f", "title": null, "labelPadding": 24}},
            "color": {
              "field": "label", "type": "nominal",
              "scale": {
                "domain": ["7236 (13.1 ps)", "7237 (11.8 ps)", "7238 (12.4 ps)", "7239 (13.7 ps)", "7240 (11.9 ps)", "7241 (13.4 ps)", "7242 (12.5 ps)", "7243 (13.5 ps)", "7244 (12.3 ps)", "7245 (12.4 ps)"],
                "range": ["#5B9BD5", "#F21D1D", "#A5A5A5", "#FFC000", "#4472C4", "#111111", "#255E91", "#9E480E", "#7A5AAB", "#ED7D31"]
              },
              "legend": {
                "title": null, "orient": "right", "offset": 20,
                "strokeColor": "#222222", "padding": 5,
                "labelFont": "Liberation Serif", "labelFontSize": 25, "labelLimit": 400,
                "symbolType": "M-1.6,0H1.6", "symbolSize": 400, "symbolStrokeWidth": 2.6, "symbolOffset": 5,
                "labelOffset": 12, "rowPadding": 0.5,
                "encode": {
                  "legend": {"update": {"strokeWidth": {"value": 1.5}}},
                  "labels": {"update": {"fill": {"signal": "['#5B9BD5', '#F21D1D', '#A5A5A5', '#FFC000', '#4472C4', '#111111', '#255E91', '#9E480E', '#7A5AAB', '#ED7D31'][datum.index]"}}}
                }
              }
            }
          }
        },
        {
          "data": {"values": [{"t": -15, "v": 0}, {"t": 15, "v": 1}]},
          "mark": {"type": "point", "opacity": 0},
          "encoding": {
            "x": {"field": "t", "type": "quantitative",
                  "axis": {"orient": "top", "values": [-15, -10, -5, 0, 5, 10, 15], "labels": false, "title": null}},
            "y": {"field": "v", "type": "quantitative",
                  "axis": {"orient": "right", "values": [0, 0.2, 0.4, 0.6, 0.8, 1], "labels": false, "title": null}}
          }
        }
      ]
    }
  ]
}
